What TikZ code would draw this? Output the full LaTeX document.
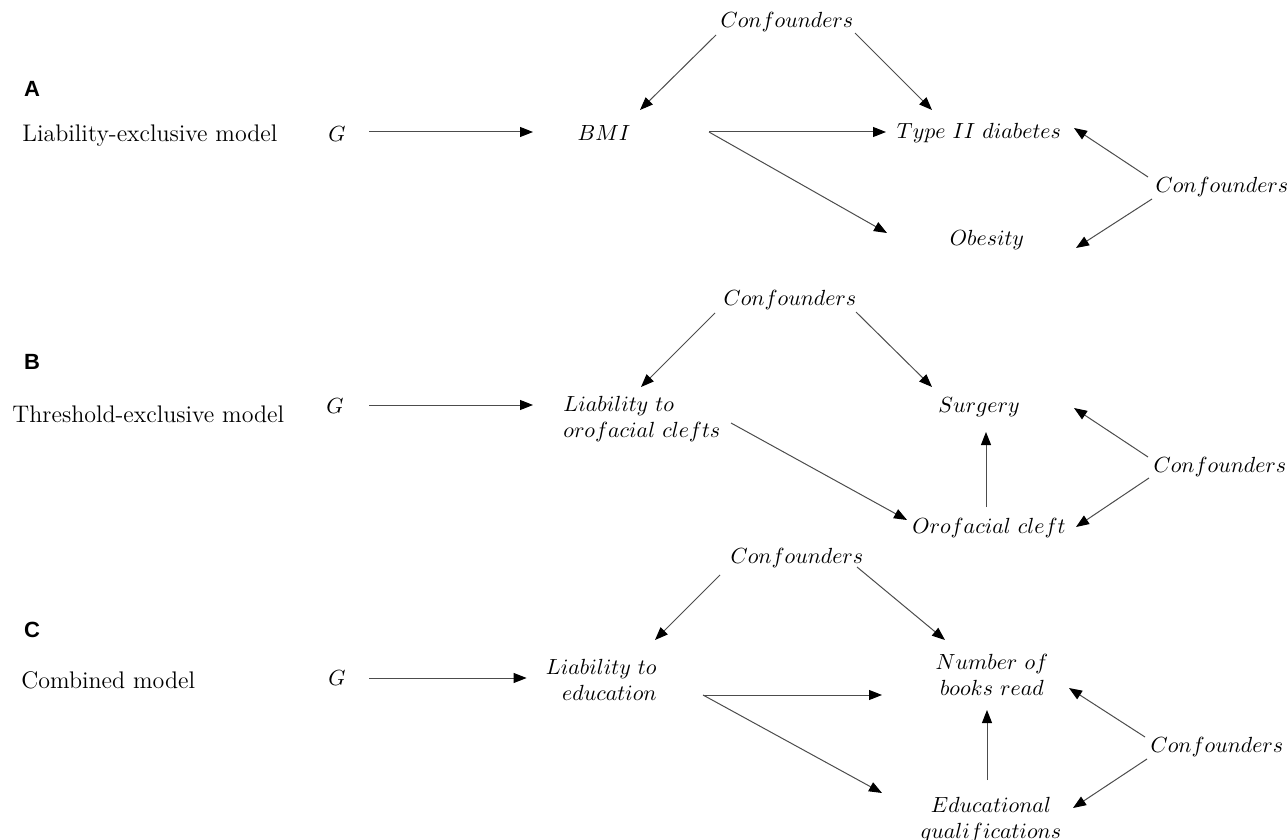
\documentclass[tikz,border=0pt]{standalone}
\usepackage{fontspec}
\newfontfamily\panelfont{Liberation Sans}
\usetikzlibrary{arrows.meta,calc}
\begin{document}
\begin{tikzpicture}[x={(0.5pt,0)},y={(0,-0.5pt)},
  every node/.style={inner sep=0pt,font=\fontsize{11}{13}\selectfont},
  panel/.style={font=\panelfont\bfseries\fontsize{11}{13}\selectfont},
  model/.style={anchor=west,font=\fontsize{12}{14}\selectfont},
  arr/.style={-{Triangle[length=6.5pt,width=5pt,black]},line width=0.5pt,draw=black!70}]
\useasboundingbox (0,0) rectangle (1287,840);
\node[panel] (labA) at (32,89) {A};
\node[model] (modA) at (22,136) {Liability-exclusive model};
\node (gA) at (337,134) {$G$};
\node (bmi) at (604,133) {$BMI$};
\node (cfA) at (787,22) {$Confounders$};
\node (t2d) at (979,133) {$Type\ II\ diabetes$};
\node (obes) at (987,240) {$Obesity$};
\node (cfA2) at (1222,187) {$Confounders$};
\draw[arr] ($(gA)+(32,-2)$) -- ($(bmi)+(-71,-1)$);
\draw[arr] ($(cfA)+(-71,13)$) -- ($(bmi)+(36,-23)$);
\draw[arr] ($(cfA)+(68,11)$) -- ($(t2d)+(-47,-23)$);
\draw[arr] ($(bmi)+(105,-1)$) -- ($(t2d)+(-93,-1)$);
\draw[arr] ($(bmi)+(105,-1)$) -- ($(obes)+(-100,-7)$);
\draw[arr] ($(cfA2)+(-74,-10)$) -- ($(t2d)+(95,-5)$);
\draw[arr] ($(cfA2)+(-70,12)$) -- ($(obes)+(89,8)$);

\node[panel] (labB) at (32,362) {B};
\node[model] (modB) at (12,414) {Threshold-exclusive model};
\node (gB) at (335,406) {$G$};
\node[anchor=west,align=left] (liabB) at (563,419) {$Liability\ to$\\$orofacial\ clefts$};
\node (cfB) at (790,300) {$Confounders$};
\node (surg) at (979,407) {$Surgery$};
\node (oro) at (989,528) {$Orofacial\ cleft$};
\node (cfB2) at (1220,467) {$Confounders$};
\draw[arr] ($(gB)+(34,-1)$) -- ($(liabB.west)+(-30,-14)$);
\draw[arr] ($(cfB)+(-75,13)$) -- ($(liabB.west)+(78,-32)$);
\draw[arr] ($(cfB)+(66,12)$) -- ($(surg)+(-47,-20)$);
\draw[arr] ($(liabB.west)+(168,4)$) -- ($(oro)+(-82,-8)$);
\draw[arr] ($(oro)+(-3,-21)$) -- ($(surg)+(7,25)$);
\draw[arr] ($(cfB2)+(-72,-10)$) -- ($(surg)+(95,1)$);
\draw[arr] ($(cfB2)+(-71,11)$) -- ($(oro)+(87,-1)$);

\node[panel] (labC) at (32,630) {C};
\node[model] (modC) at (21,680) {Combined model};
\node (gC) at (337,678) {$G$};
\node[anchor=east,align=right] (liabC) at (657,680) {$Liability\ to$\\$education$};
\node (cfC) at (797,558) {$Confounders$};
\node[align=center] (books) at (992,675) {$Number\ of$\\$books\ read$};
\node[align=center] (educ) at (991,820) {$Educational$\\$qualifications$};
\node (cfC2) at (1217,747) {$Confounders$};
\draw[arr] ($(gC)+(32,0)$) -- ($(liabC.west)+(-19,-2)$);
\draw[arr] ($(cfC)+(-77,17)$) -- ($(liabC.east)+(-2,-40)$);
\draw[arr] ($(cfC)+(60,9)$) -- ($(books)+(-47,-35)$);
\draw[arr] ($(liabC.east)+(46,15)$) -- ($(books)+(-110,20)$);
\draw[arr] ($(liabC.east)+(46,15)$) -- ($(educ)+(-109,-27)$);
\draw[arr] ($(educ)+(-4,-40)$) -- ($(books)+(-5,35)$);
\draw[arr] ($(cfC2)+(-72,-10)$) -- ($(books)+(77,13)$);
\draw[arr] ($(cfC2)+(-70,12)$) -- ($(educ)+(82,-12)$);
\end{tikzpicture}
\end{document}
